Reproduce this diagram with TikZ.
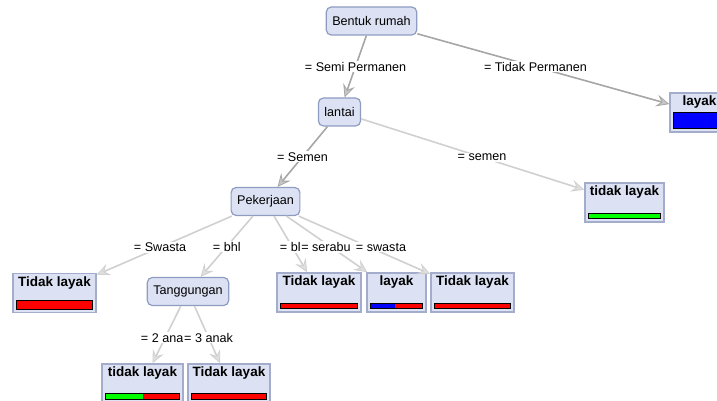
\documentclass[tikz,border=0pt]{standalone}
\usepackage{fontspec}
\setmainfont{Liberation Sans}
\usetikzlibrary{arrows.meta,calc}

\definecolor{boxfill}{HTML}{DCE2F3}
\definecolor{boxline}{HTML}{8E9CC2}
\definecolor{leafline}{HTML}{A3ADCB}
\definecolor{darkedge}{HTML}{A6A6A6}
\definecolor{lightedge}{HTML}{D0D0D0}

\tikzset{
  inner/.style={draw=boxline, fill=boxfill, rounded corners=5pt, line width=1.2pt,
    minimum height=28pt, inner xsep=6pt, font=\fontsize{12.6}{14}\selectfont},
  leaf/.style={draw=leafline, fill=boxfill, line width=1.5pt, minimum height=39pt, inner sep=0pt},
  ttl/.style={inner sep=0pt, font=\fontsize{13.5}{16}\selectfont\bfseries},
  lbl/.style={fill=white, inner sep=1pt, font=\fontsize{12.6}{14}\selectfont},
  edge/.style={draw=darkedge, line width=1.6pt,
    -{Stealth[length=13pt, width=12pt, inset=5pt, fill=gray!45, line width=0.8pt]}},
  lightline/.style={edge, draw=lightedge,
    -{Stealth[length=13pt, width=12pt, inset=5pt, fill=gray!25, line width=0.8pt]}}
}

% bar under a leaf: node, height, split, left colour, right colour
\newcommand{\leafbar}[5]{%
  \coordinate (#1a) at ([xshift=4pt, yshift=4pt]#1.south west);
  \coordinate (#1b) at ([xshift=-4pt, yshift=#2+4pt]#1.south east);
  \coordinate (#1m) at ($(#1a)!#3!(#1b)$);
  \fill[#4] (#1a) rectangle (#1m |- #1b);
  \fill[#5] (#1m |- #1a) rectangle (#1b);
  \draw[line width=0.8pt] (#1a) rectangle (#1b);
}

\begin{document}
\begin{tikzpicture}[x=1pt, y=-1pt]

    \useasboundingbox (0,0) rectangle (717,401);

    % Nodos internos
    \node[inner] (bentuk) at (371.5,21) {Bentuk rumah};
    \node[inner] (lantai) at (339.5,112) {lantai};
    \node[inner] (pekerjaan) at (265.5,201.5) {Pekerjaan};
    \node[inner] (tanggungan) at (188,291.5) {Tanggungan};

    % Hojas
    \node[leaf, minimum width=59pt] (layakA) at (699.5,112.5) {};
    \node[leaf, minimum width=79pt] (semen) at (624.5,202.5) {};
    \node[leaf, minimum width=83pt] (swasta) at (54.5,293) {};
    \node[leaf, minimum width=84pt] (bl) at (319,292.5) {};
    \node[leaf, minimum width=59pt] (serabu) at (396.5,292.5) {};
    \node[leaf, minimum width=83pt] (swastaB) at (472.5,292.5) {};
    \node[leaf, minimum width=81pt] (anakA) at (142.5,383.5) {};
    \node[leaf, minimum width=82pt] (anakB) at (229,383.5) {};

    % Títulos
    \node[ttl] at ([yshift=-10pt]layakA.north) {layak};
    \node[ttl] at ([yshift=-10pt]semen.north) {tidak layak};
    \node[ttl] at ([yshift=-10pt]swasta.north) {Tidak layak};
    \node[ttl] at ([yshift=-10pt]bl.north) {Tidak layak};
    \node[ttl] at ([yshift=-10pt]serabu.north) {layak};
    \node[ttl] at ([yshift=-10pt]swastaB.north) {Tidak layak};
    \node[ttl] at ([yshift=-10pt]anakA.north) {tidak layak};
    \node[ttl] at ([yshift=-10pt]anakB.north) {Tidak layak};

    % Barras
    \leafbar{layakA}{16pt}{1}{blue}{blue}
    \leafbar{semen}{5pt}{1}{green}{green}
    \leafbar{swasta}{9pt}{1}{red}{red}
    \leafbar{bl}{5pt}{1}{red}{red}
    \leafbar{serabu}{5pt}{0.48}{blue}{red}
    \leafbar{swastaB}{5pt}{1}{red}{red}
    \leafbar{anakA}{6pt}{0.5}{green}{red}
    \leafbar{anakB}{6pt}{1}{red}{red}

    % Aristas
    \draw[edge] (bentuk) -- (lantai);
    \draw[edge] (bentuk) -- (layakA);
    \draw[edge] (lantai) -- (pekerjaan);
    \draw[lightline] (lantai) -- (semen);
    \draw[lightline] (pekerjaan) -- (swasta);
    \draw[lightline] (pekerjaan) -- (tanggungan);
    \draw[lightline] (pekerjaan) -- (bl);
    \draw[lightline] (pekerjaan) -- (serabu);
    \draw[lightline] (pekerjaan) -- (swastaB);
    \draw[lightline] (tanggungan) -- (anakA);
    \draw[lightline] (tanggungan) -- (anakB);

    % Etiquetas
    \node[lbl] at ($(bentuk)!.5!(lantai)$) {= Semi Permanen};
    \node[lbl] at ($(bentuk)!.5!(layakA)$) {= Tidak Permanen};
    \node[lbl] at ($(lantai)!.5!(pekerjaan)$) {= Semen};
    \node[lbl] at ($(lantai)!.5!(semen)$) {= semen};
    \node[lbl] at ($(pekerjaan)!.5!(swasta)$) {= Swasta};
    \node[lbl] at ($(pekerjaan)!.5!(tanggungan)$) {= bhl};
    \node[lbl] at ([xshift=-2pt]$(pekerjaan)!.5!(bl)$) {= bl};
    \node[lbl] at ([xshift=-5pt]$(pekerjaan)!.5!(serabu)$) {= serabu};
    \node[lbl] at ([xshift=12pt]$(pekerjaan)!.5!(swastaB)$) {= swasta};
    \node[lbl] at ($(tanggungan)!.5!(anakA)$) {= 2 anak};
    \node[lbl] at ($(tanggungan)!.5!(anakB)$) {= 3 anak};

  \end{tikzpicture}
\end{document}
